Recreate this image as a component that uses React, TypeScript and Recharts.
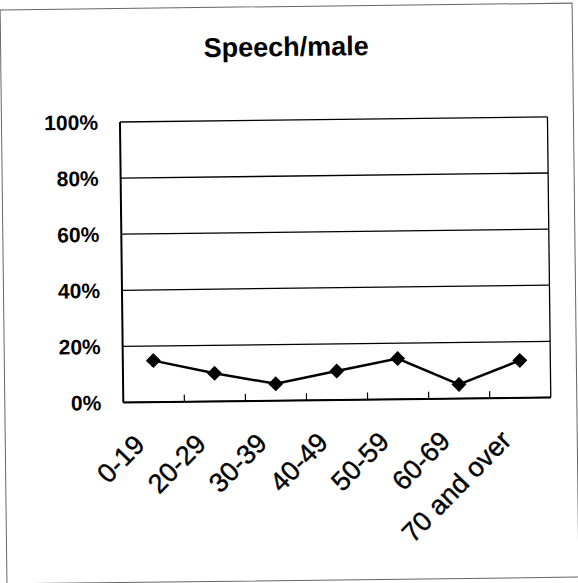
import React from "react";
import { LineChart, Line, XAxis, YAxis, CartesianGrid } from "recharts";

const ageGroups = ["0-19", "20-29", "30-39", "40-49", "50-59", "60-69", "70 and over"];
const speechMale = [14.8, 10, 6, 10.3, 14.5, 5, 13.3];
const percentTicks = [0, 20, 40, 60, 80, 100];

const data = ageGroups.map((age, i) => ({ age, value: speechMale[i] }));

const W = 578;
const H = 583;
const PLOT_LEFT = 122;
const PLOT_RIGHT = 549.5;
const BAND = (PLOT_RIGHT - PLOT_LEFT) / ageGroups.length;

const Diamond = (props: any) => {
  const { cx, cy } = props;
  if (cx == null || cy == null) return null;
  const r = 7.5;
  return (
    <polygon
      points={`${cx},${cy - r} ${cx + r},${cy} ${cx},${cy + r} ${cx - r},${cy}`}
      fill="#000"
    />
  );
};

const AgeTick = (props: any) => {
  const { x, y, payload, index } = props;
  return (
    <g transform={`translate(${x},${y})`}>
      {index > 0 && (
        <line x1={-BAND / 2} x2={-BAND / 2} y1={0} y2={-7} stroke="#000" strokeWidth={1.2} />
      )}
      <text
        transform="translate(-8,44) rotate(-45)"
        textAnchor="end"
        fontSize={27}
        fill="#000"
        stroke="#000"
        strokeWidth={0.4}
        fontFamily="'Liberation Sans', Arial, sans-serif"
      >
        {payload.value}
      </text>
    </g>
  );
};

// right edge of the plot frame
const rightEdge = ({ offset }: any) => [offset.left + offset.width];

export default function App() {
  return (
    <div
      style={{
        position: "absolute",
        left: 0,
        top: 0,
        width: W,
        height: H,
        background: "#fff",
        fontFamily: "'Liberation Sans', Arial, sans-serif",
        transform: "rotate(-0.68deg)",
        transformOrigin: "50% 50%",
      }}
    >
      <div
        style={{
          position: "absolute",
          left: 3,
          top: 6,
          width: 573,
          height: 575,
          border: "1px solid #666",
          boxSizing: "border-box",
        }}
      />
      <div
        style={{
          position: "absolute",
          left: 0,
          width: W,
          top: 34,
          textAlign: "center",
          fontSize: 27,
          lineHeight: "26px",
          fontWeight: 700,
          color: "#000",
        }}
      >
        Speech/male
      </div>
      <LineChart
        width={W}
        height={H}
        data={data}
        margin={{ top: 120, right: W - PLOT_RIGHT, left: 0, bottom: 0 }}
        style={{ position: "absolute", left: 0, top: 0 }}
      >
        <CartesianGrid
          stroke="#000"
          strokeWidth={1.3}
          verticalCoordinatesGenerator={rightEdge}
        />
        <XAxis
          dataKey="age"
          height={182.5}
          interval={0}
          padding={{ left: BAND / 2, right: BAND / 2 }}
          tickLine={false}
          tickSize={0}
          tickMargin={0}
          axisLine={{ stroke: "#000", strokeWidth: 2 }}
          tick={<AgeTick />}
        />
        <YAxis
          width={PLOT_LEFT}
          domain={[0, 100]}
          ticks={percentTicks}
          interval={0}
          tickFormatter={(v: number) => `${v}%`}
          tickLine={false}
          tickSize={0}
          tickMargin={22}
          axisLine={{ stroke: "#000", strokeWidth: 2 }}
          tick={{ fill: "#000", fontSize: 21, fontWeight: 700 }}
        />
        <Line
          type="linear"
          dataKey="value"
          stroke="#000"
          strokeWidth={2.5}
          dot={(p: any) => <Diamond key={`d-${p.index}`} {...p} />}
          activeDot={false}
          isAnimationActive={false}
        />
      </LineChart>
    </div>
  );
}
